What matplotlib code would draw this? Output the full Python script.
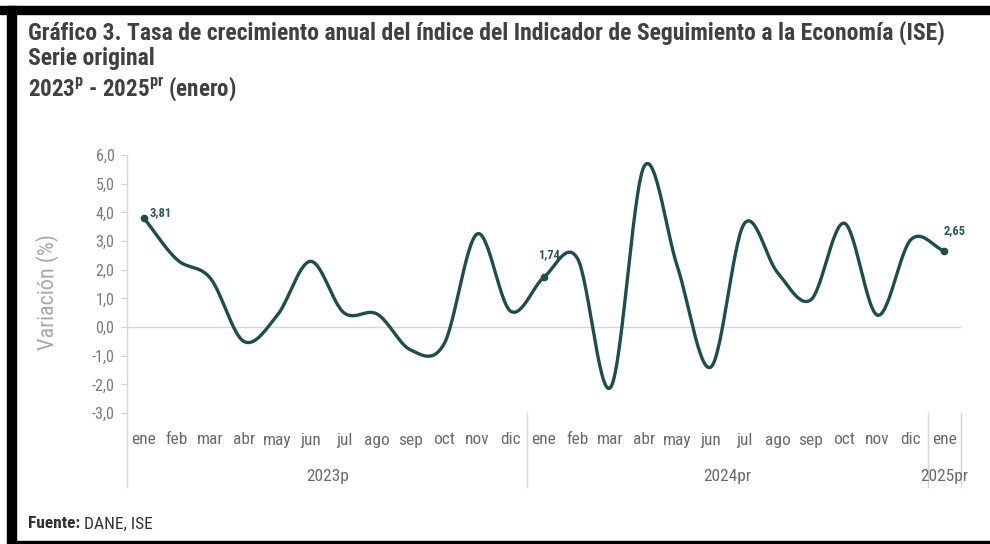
import numpy as np
import matplotlib
matplotlib.use("Agg")
import matplotlib.pyplot as plt
from matplotlib import font_manager
from matplotlib.patches import Rectangle
from matplotlib.lines import Line2D

# ---------------- data ----------------
months = ["ene", "feb", "mar", "abr", "may", "jun", "jul", "ago", "sep", "oct", "nov", "dic",
          "ene", "feb", "mar", "abr", "may", "jun", "jul", "ago", "sep", "oct", "nov", "dic",
          "ene"]
years = ["2023p", "2024pr", "2025pr"]
year_counts = [12, 12, 1]
values = [3.81, 2.35, 1.70, -0.50, 0.40, 2.29, 0.50, 0.45, -0.80, -0.60, 3.25, 0.55,
          1.74, 2.40, -2.10, 5.60, 2.10, -1.40, 3.60, 1.90, 0.95, 3.62, 0.41, 3.05,
          2.65]
labeled_idx = [0, 12, 24]
y_ticks = [-3, -2, -1, 0, 1, 2, 3, 4, 5, 6]

title1 = "Gráfico 3. Tasa de crecimiento anual del índice del Indicador de Seguimiento a la Economía (ISE)"
title2 = "Serie original"
title3 = r"2023$^{\mathbf{p}}$ - 2025$^{\mathbf{pr}}$ (enero)"
source_bold = "Fuente:"
source_rest = " DANE, ISE"
ylabel = "Variación (%)"

# ---------------- fonts ----------------
available = {f.name for f in font_manager.fontManager.ttflist}
font = "DejaVu Sans"
for cand in ["Liberation Sans Narrow", "Roboto Condensed", "Open Sans Condensed", "Open Sans", "Lato"]:
    if cand in available:
        font = cand
        break
plt.rcParams["font.family"] = [font, "DejaVu Sans"]
plt.rcParams["mathtext.fontset"] = "custom"
plt.rcParams["mathtext.rm"] = font
plt.rcParams["mathtext.bf"] = font + ":bold"

W, H = 990, 544
fig = plt.figure(figsize=(W / 100, H / 100), dpi=100)
fig.patch.set_facecolor("white")

def px(x, y):
    return x / W, 1 - y / H

# frame (black bands of the screenshot)
fig.patches.append(Rectangle(px(0, 14), 1, 8 / H, transform=fig.transFigure, color="black", zorder=0))
fig.patches.append(Rectangle((7 / W, 1 - 542 / H), 9 / W, 536 / H, transform=fig.transFigure, color="black", zorder=0))
fig.patches.append(Rectangle((7 / W, 1 - 543 / H), 1 - 7 / W, 2.5 / H, transform=fig.transFigure, color="black", zorder=0))

renderer = fig.canvas.get_renderer()

title_color = "#404040"
t = fig.text(*px(28, 33), title1, fontsize=12, va="center", ha="left", fontweight="bold", color=title_color)
w = t.get_window_extent(renderer).width
tsize = 12 * 920 / w
t.set_fontsize(tsize)
fig.text(*px(28, 59), title2, fontsize=tsize, va="center", ha="left", fontweight="bold", color=title_color)
fig.text(*px(28, 89), title3, fontsize=tsize * 0.97, va="center", ha="left", fontweight="bold", color=title_color)

# ---------------- axes ----------------
left, right, top, bottom = 127, 961, 155, 413
ax = fig.add_axes([left / W, 1 - bottom / H, (right - left) / W, (bottom - top) / H])
n = len(values)
x = np.arange(n)
ax.set_xlim(-0.5, n - 0.5)
ax.set_ylim(-3, 6)
ax.set_yticks(y_ticks)
ax.set_yticklabels([f"{v:.1f}".replace(".", ",") for v in y_ticks], color="#7a7a7a", fontsize=11.5)
ax.tick_params(axis="y", length=4, color="#d0d0d0", pad=5)
ax.set_xticks([])
for s in ["top", "right", "bottom", "left"]:
    ax.spines[s].set_visible(False)
ax.axhline(0, color="#d6d6d6", lw=1, zorder=1)

# separators / left axis line extending below the plot
grey = "#d6d6d6"
ext = (487 - top) / (bottom - top)
trans = ax.get_xaxis_transform()
ax.add_line(Line2D([-0.5, -0.5], [1.0, 1 - ext], transform=trans, color=grey, lw=1, clip_on=False))
edges = np.cumsum(year_counts) - 0.5
for e in edges:
    ax.add_line(Line2D([e, e], [0.0, 1 - ext], transform=trans, color=grey, lw=1, clip_on=False))

# month labels
m_y = -(440 - bottom) / (bottom - top)
for i, m in enumerate(months):
    ax.text(i, m_y, m, transform=trans, ha="center", va="center", fontsize=12.5, color="#6a6a6a")
# year labels
y_y = -(477 - bottom) / (bottom - top)
start = 0
for yl, c in zip(years, year_counts):
    ax.text(start + (c - 1) / 2, y_y, yl, transform=trans, ha="center", va="center",
            fontsize=12.5, color="#6a6a6a")
    start += c

fig.text(*px(48, 292), ylabel, rotation=90, ha="center", va="center",
         fontsize=16, color="#a8a8a8")

# smooth (Catmull-Rom) line through the data
line_color = "#1d4e4c"
v = np.array(values, dtype=float)
P = np.concatenate([[2 * v[0] - v[1]], v, [2 * v[-1] - v[-2]]])
xs, ys = [], []
tt = np.linspace(0, 1, 30, endpoint=False)
for i in range(n - 1):
    p0, p1, p2, p3 = P[i], P[i + 1], P[i + 2], P[i + 3]
    m1 = (p2 - p0) / 2
    m2 = (p3 - p1) / 2
    h00 = 2 * tt**3 - 3 * tt**2 + 1
    h10 = tt**3 - 2 * tt**2 + tt
    h01 = -2 * tt**3 + 3 * tt**2
    h11 = tt**3 - tt**2
    xs.append(i + tt)
    ys.append(h00 * p1 + h10 * m1 + h01 * p2 + h11 * m2)
xs.append([n - 1])
ys.append([v[-1]])
ax.plot(np.concatenate(xs), np.concatenate(ys), color=line_color, lw=2.4, solid_capstyle="round", zorder=3)

ax.plot([x[i] for i in labeled_idx], [values[i] for i in labeled_idx], "o", ms=4.5,
        color=line_color, zorder=4)
offsets = {0: (6, 5, "left"), 12: (5, 23, "center"), 24: (10, 20, "center")}
for i in labeled_idx:
    dx, dy, ha = offsets[i]
    ax.annotate(f"{values[i]:.2f}".replace(".", ","), (x[i], values[i]), xytext=(dx, dy),
                textcoords="offset pixels", ha=ha, va="center", fontsize=9,
                fontweight="bold", color="#2a5a58")

# source
t1 = fig.text(*px(28, 524), source_bold, fontsize=12.5, fontweight="bold", color="#303030",
              va="center", ha="left")
w1 = t1.get_window_extent(renderer).width
fig.text((28 + w1) / W, 1 - 524 / H, source_rest, fontsize=12.5, color="#303030",
         va="center", ha="left")

fig.savefig("out.png", dpi=100, facecolor="white")
